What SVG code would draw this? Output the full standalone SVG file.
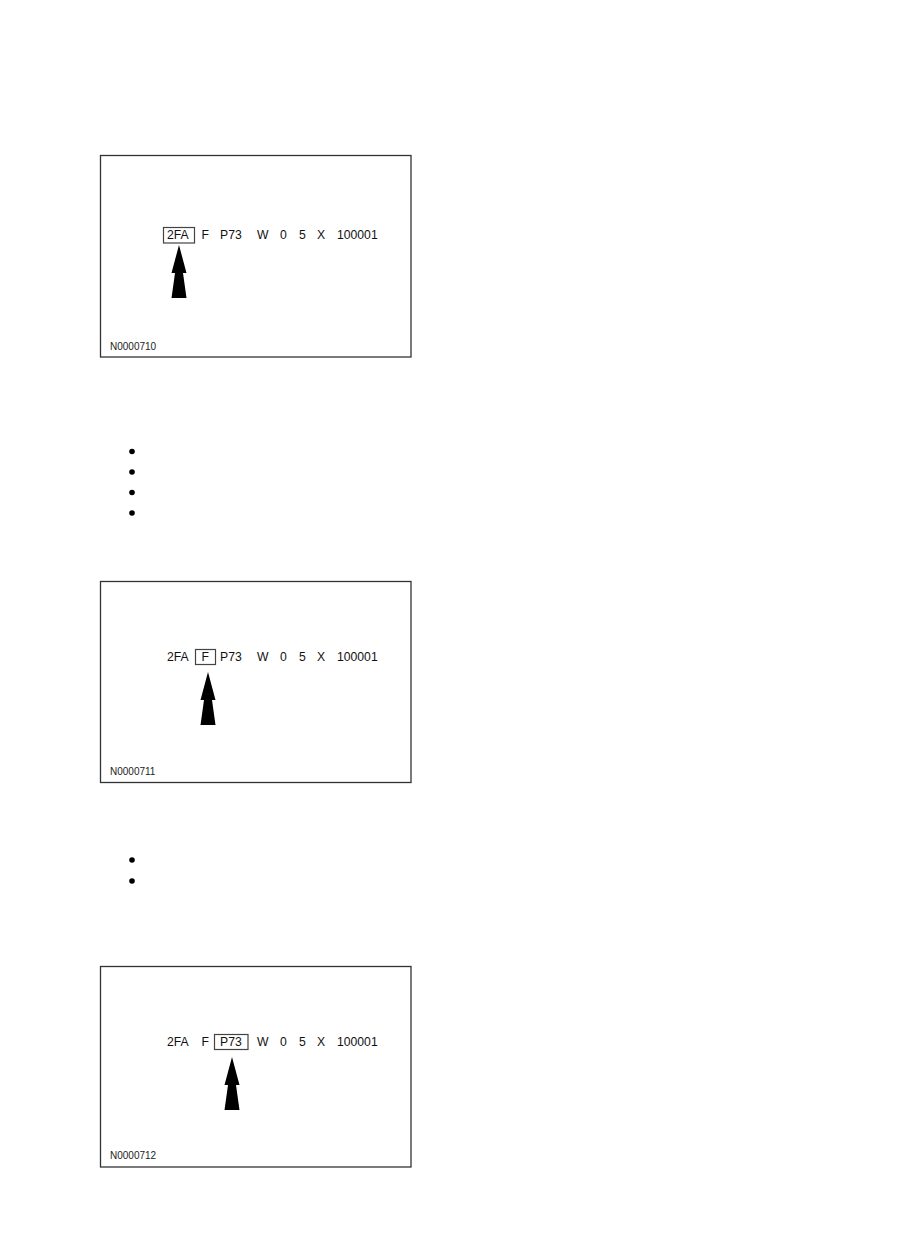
<svg xmlns="http://www.w3.org/2000/svg" xmlns:xlink="http://www.w3.org/1999/xlink" width="909" height="1242" viewBox="0 0 909 1242">
<style>
.frame{fill:#fff;stroke:#333;stroke-width:1.3}
.hl{fill:none;stroke:#444;stroke-width:1.2}
.t{font-family:"Liberation Sans",Arial,sans-serif;font-size:12.2px;fill:#111}
.lab{font-family:"Liberation Sans",Arial,sans-serif;font-size:10px;fill:#222}
.arr{fill:#000}
.bul{fill:#000}
</style>
<defs>
<path id="arrow" d="M0,0 L7.5,28 L4,28 L7.5,53 L-7.5,53 L-4,28 L-7.5,28 Z"/>
</defs>
<rect width="909" height="1242" fill="#fff"/>

<g id="panel1">
<rect class="frame" x="100.5" y="155.5" width="310.5" height="201.5"/>
<rect class="hl" x="163.5" y="227.5" width="31" height="15.5"/>
<text class="t" x="167" y="238.5">2FA</text>
<text class="t" x="201.5" y="238.5">F</text>
<text class="t" x="220" y="238.5">P73</text>
<text class="t" x="257" y="238.5">W</text>
<text class="t" x="280" y="238.5">0</text>
<text class="t" x="299" y="238.5">5</text>
<text class="t" x="317" y="238.5">X</text>
<text class="t" x="337" y="238.5">100001</text>
<use class="arr" xlink:href="#arrow" transform="translate(179,245)"/>
<text class="lab" x="110" y="350">N0000710</text>
</g>

<g id="bullets1">
<circle class="bul" cx="132" cy="451.5" r="2.8"/>
<circle class="bul" cx="132" cy="472" r="2.8"/>
<circle class="bul" cx="132" cy="492.5" r="2.8"/>
<circle class="bul" cx="132" cy="513" r="2.8"/>
</g>

<g id="panel2">
<rect class="frame" x="100.5" y="581.5" width="310.5" height="201"/>
<rect class="hl" x="195.5" y="649.5" width="20" height="15"/>
<text class="t" x="167" y="660.5">2FA</text>
<text class="t" x="201.5" y="660.5">F</text>
<text class="t" x="220" y="660.5">P73</text>
<text class="t" x="257" y="660.5">W</text>
<text class="t" x="280" y="660.5">0</text>
<text class="t" x="299" y="660.5">5</text>
<text class="t" x="317" y="660.5">X</text>
<text class="t" x="337" y="660.5">100001</text>
<use class="arr" xlink:href="#arrow" transform="translate(208,672)"/>
<text class="lab" x="110" y="775">N0000711</text>
</g>

<g id="bullets2">
<circle class="bul" cx="132" cy="860" r="2.8"/>
<circle class="bul" cx="132" cy="881" r="2.8"/>
</g>

<g id="panel3">
<rect class="frame" x="100.5" y="966.5" width="310.5" height="200.5"/>
<rect class="hl" x="214.5" y="1034.5" width="33.5" height="15"/>
<text class="t" x="167" y="1045.5">2FA</text>
<text class="t" x="201.5" y="1045.5">F</text>
<text class="t" x="220" y="1045.5">P73</text>
<text class="t" x="257" y="1045.5">W</text>
<text class="t" x="280" y="1045.5">0</text>
<text class="t" x="299" y="1045.5">5</text>
<text class="t" x="317" y="1045.5">X</text>
<text class="t" x="337" y="1045.5">100001</text>
<use class="arr" xlink:href="#arrow" transform="translate(232,1057)"/>
<text class="lab" x="110" y="1159">N0000712</text>
</g>
</svg>
